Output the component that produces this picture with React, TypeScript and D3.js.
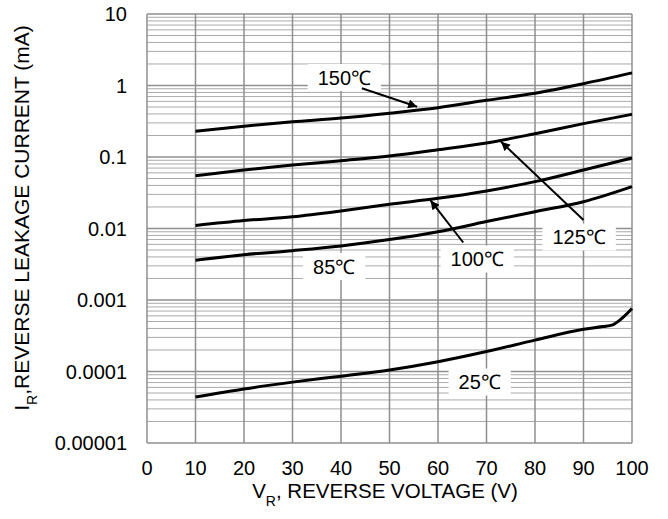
import React, { useEffect, useRef } from "react";
import * as d3 from "d3";

// ---- data ----
const voltages = [10, 20, 30, 40, 50, 60, 70, 80, 90, 100];
const i150 = [0.23, 0.27, 0.31, 0.35, 0.41, 0.49, 0.62, 0.78, 1.06, 1.5];
const i125 = [0.0548, 0.0658, 0.077, 0.0887, 0.103, 0.126, 0.157, 0.212, 0.293, 0.395];
const i100 = [0.011, 0.0129, 0.0146, 0.0176, 0.0218, 0.0264, 0.0335, 0.0452, 0.0658, 0.097];
const i85 = [0.0036, 0.0043, 0.0049, 0.0057, 0.007, 0.009, 0.0125, 0.0172, 0.0237, 0.0385];
const v25 = [10, 20, 30, 40, 50, 60, 70, 80, 90, 94, 96, 98, 100];
const i25 = [4.4e-5, 5.7e-5, 7.1e-5, 8.6e-5, 1.05e-4, 1.37e-4, 1.9e-4, 2.75e-4, 3.9e-4, 4.25e-4, 4.5e-4, 5.6e-4, 7.6e-4];

const xTicks = [0, 10, 20, 30, 40, 50, 60, 70, 80, 90, 100];
const yTicks = [1e-5, 1e-4, 1e-3, 1e-2, 1e-1, 1, 10];
const yTickLabels = ["0.00001", "0.0001", "0.001", "0.01", "0.1", "1", "10"];

// labels: text, center (V, I)
const labelText = ["150℃", "125℃", "100℃", "85℃", "25℃"];
const labelV = [40.7, 89.1, 68.1, 38.6, 68.6];
const labelI = [1.294, 0.0076, 0.00374, 0.00294, 7.13e-5];

// arrows: tail (V, I) -> tip (V, I)
const arrowTailV = [44.3, 90.0, 65.2];
const arrowTailI = [0.914, 0.01315, 0.00637];
const arrowTipV = [55.7, 73.0, 58.45];
const arrowTipI = [0.505, 0.1637, 0.02466];

const W = 668;
const H = 519;
const M = { left: 147, right: 632, top: 14, bottom: 443 };
const FONT = "Arial, 'Liberation Sans', sans-serif";

export default function App() {
  const ref = useRef<SVGSVGElement | null>(null);

  useEffect(() => {
    const svg = d3.select(ref.current);
    svg.selectAll("*").remove();

    const x = d3.scaleLinear().domain([0, 100]).range([M.left, M.right]);
    const y = d3.scaleLog().domain([1e-5, 10]).range([M.bottom, M.top]);

    const defs = svg.append("defs");
    defs
      .append("marker")
      .attr("id", "ah")
      .attr("viewBox", "0 0 10 10")
      .attr("refX", 10)
      .attr("refY", 5)
      .attr("markerWidth", 5)
      .attr("markerHeight", 4.5)
      .attr("markerUnits", "strokeWidth")
      .attr("orient", "auto")
      .append("path")
      .attr("d", "M0,0 L10,5 L0,10 Z")
      .attr("fill", "#000");

    svg.append("rect").attr("width", W).attr("height", H).attr("fill", "#fff");

    // minor horizontal grid
    const minors: number[] = [];
    for (let e = -5; e < 1; e++) {
      for (let m = 2; m <= 9; m++) minors.push(m * Math.pow(10, e));
    }
    const g = svg.append("g");
    g.selectAll("line.minor")
      .data(minors)
      .join("line")
      .attr("x1", M.left)
      .attr("x2", M.right)
      .attr("y1", (d) => y(d))
      .attr("y2", (d) => y(d))
      .attr("stroke", "#aaaaaa")
      .attr("stroke-width", 1);

    // decade lines
    g.selectAll("line.decade")
      .data(yTicks)
      .join("line")
      .attr("x1", M.left)
      .attr("x2", M.right)
      .attr("y1", (d) => y(d))
      .attr("y2", (d) => y(d))
      .attr("stroke", "#8f8f8f")
      .attr("stroke-width", 1.5);

    // vertical lines
    g.selectAll("line.v")
      .data(xTicks)
      .join("line")
      .attr("x1", (d) => x(d))
      .attr("x2", (d) => x(d))
      .attr("y1", M.top)
      .attr("y2", M.bottom)
      .attr("stroke", "#8f8f8f")
      .attr("stroke-width", 1.5);

    // tick labels
    svg
      .append("g")
      .selectAll("text")
      .data(xTicks)
      .join("text")
      .attr("x", (d) => x(d))
      .attr("y", 475)
      .attr("text-anchor", "middle")
      .attr("font-family", FONT)
      .attr("font-size", 20)
      .attr("fill", "#000")
      .text((d) => String(d));

    svg
      .append("g")
      .selectAll("text")
      .data(yTicks)
      .join("text")
      .attr("x", 127)
      .attr("y", (d) => y(d))
      .attr("dy", "0.36em")
      .attr("text-anchor", "end")
      .attr("font-family", FONT)
      .attr("font-size", 20)
      .attr("fill", "#000")
      .text((_d, i) => yTickLabels[i]);

    // axis titles
    const xt = svg
      .append("text")
      .attr("x", 385)
      .attr("y", 498)
      .attr("text-anchor", "middle")
      .attr("font-family", FONT)
      .attr("font-size", 20.5)
      .attr("fill", "#000");
    xt.append("tspan").text("V");
    xt.append("tspan").attr("baseline-shift", "sub").attr("font-size", 14).text("R");
    xt.append("tspan").text(", REVERSE VOLTAGE (V)");

    const yt = svg
      .append("text")
      .attr("transform", "translate(29,218) rotate(-90)")
      .attr("text-anchor", "middle")
      .attr("font-family", FONT)
      .attr("font-size", 21)
      .attr("fill", "#000");
    yt.append("tspan").text("I");
    yt.append("tspan").attr("baseline-shift", "sub").attr("font-size", 14).text("R");
    yt.append("tspan").text(",REVERSE LEAKAGE CURRENT (mA)");

    // curves
    const line = d3
      .line<[number, number]>()
      .x((d) => x(d[0]))
      .y((d) => y(d[1]))
      .curve(d3.curveMonotoneX);

    const series: [number[], number[]][] = [
      [voltages, i150],
      [voltages, i125],
      [voltages, i100],
      [voltages, i85],
      [v25, i25],
    ];
    const cg = svg.append("g");
    series.forEach(([vs, is]) => {
      cg.append("path")
        .attr("d", line(vs.map((v, k) => [v, is[k]] as [number, number])))
        .attr("fill", "none")
        .attr("stroke", "#000")
        .attr("stroke-width", 3);
    });

    // labels with white boxes
    const lg = svg.append("g");
    labelText.forEach((t, k) => {
      const cx = x(labelV[k]);
      const cy = y(labelI[k]);
      const rect = lg.append("rect").attr("fill", "#fff");
      const txt = lg
        .append("text")
        .attr("x", cx)
        .attr("y", cy)
        .attr("dy", "0.36em")
        .attr("text-anchor", "middle")
        .attr("font-family", FONT)
        .attr("font-size", 20)
        .attr("fill", "#000")
        .text(t);
      const node = txt.node() as SVGTextElement;
      const w = node.getComputedTextLength();
      rect
        .attr("x", cx - w / 2 - 10)
        .attr("y", cy - 13.5)
        .attr("width", w + 20)
        .attr("height", 27);
    });

    // arrows
    arrowTailV.forEach((tv, k) => {
      svg
        .append("line")
        .attr("x1", x(tv))
        .attr("y1", y(arrowTailI[k]))
        .attr("x2", x(arrowTipV[k]))
        .attr("y2", y(arrowTipI[k]))
        .attr("stroke", "#000")
        .attr("stroke-width", 2)
        .attr("marker-end", "url(#ah)");
    });
  }, []);

  return (
    <svg
      ref={ref}
      width={W}
      height={H}
      style={{ position: "absolute", left: 0, top: 0, display: "block" }}
    />
  );
}
